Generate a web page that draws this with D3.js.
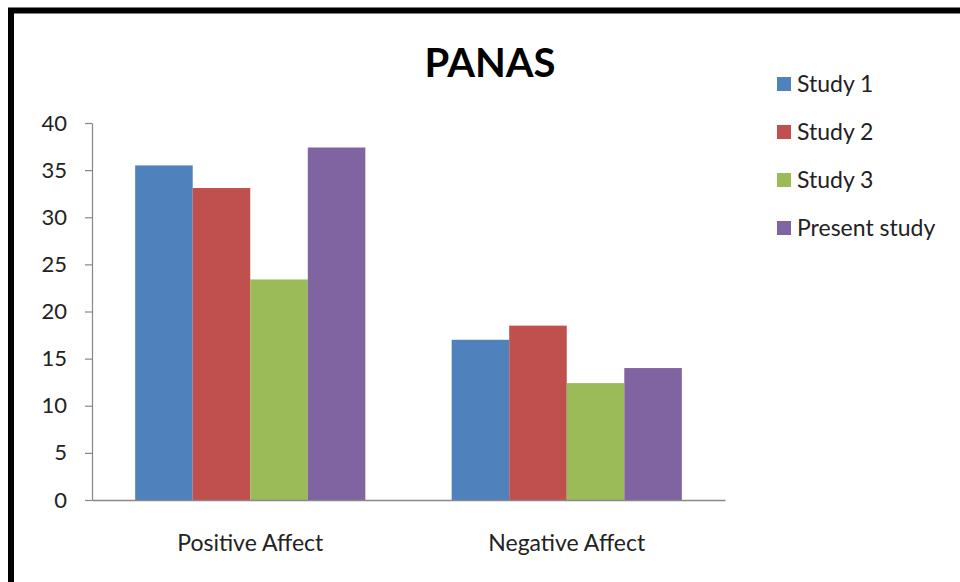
<!DOCTYPE html>
<html>
<head>
<meta charset="utf-8">
<script src="https://cdn.jsdelivr.net/npm/d3@7"></script>
<style>
  html, body { margin: 0; padding: 0; background: #fff; }
  svg { display: block; }
</style>
</head>
<body>
<svg id="chart" width="960" height="582"></svg>
<script>
// PANAS scores by study
const categories = ["Positive Affect", "Negative Affect"];
const seriesNames = ["Study 1", "Study 2", "Study 3", "Present study"];
const study1 = [35.5, 17.0];
const study2 = [33.1, 18.5];
const study3 = [23.4, 12.4];
const presentStudy = [37.4, 14.0];
const yTicks = [0, 5, 10, 15, 20, 25, 30, 35, 40];
const colors = ["#4f81bd", "#c0504d", "#9bbb59", "#8064a2"];

const seriesValues = [study1, study2, study3, presentStudy];
const font = "Lato, 'Open Sans', sans-serif";

const svg = d3.select("#chart");

// outer frame (top and left edges)
svg.append("path")
  .attr("d", "M11,582 V10.5 H960")
  .attr("fill", "none")
  .attr("stroke", "#000")
  .attr("stroke-width", 6);

const plot = { left: 92, right: 725, top: 123, bottom: 500 };

const x0 = d3.scaleBand()
  .domain(categories)
  .range([plot.left, plot.right])
  .paddingInner(0)
  .paddingOuter(0);

// 150% gap between groups: bar width = band / (4 + 1.5)
const barW = x0.bandwidth() / (seriesNames.length + 1.5);
const x1 = d3.scaleBand()
  .domain(seriesNames)
  .range([0, barW * seriesNames.length]);

const y = d3.scaleLinear().domain([0, 40]).range([plot.bottom, plot.top]);

// bars
const groups = svg.append("g").selectAll("g")
  .data(categories)
  .join("g")
  .attr("transform", (d) => `translate(${x0(d) + (x0.bandwidth() - barW * seriesNames.length) / 2},0)`);

groups.selectAll("rect")
  .data((c, ci) => seriesNames.map((s, si) => ({ s, si, v: seriesValues[si][ci] })))
  .join("rect")
  .attr("x", (d) => x1(d.s))
  .attr("width", x1.bandwidth())
  .attr("y", (d) => y(d.v))
  .attr("height", (d) => y(0) - y(d.v))
  .attr("fill", (d) => colors[d.si]);

// y axis
const yAxis = svg.append("g")
  .attr("transform", `translate(${plot.left},0)`)
  .call(d3.axisLeft(y).tickValues(yTicks).tickSize(7).tickPadding(18).tickSizeOuter(0));
yAxis.select(".domain").attr("stroke", "#888").attr("stroke-width", 1.2);
yAxis.selectAll(".tick line").attr("stroke", "#888").attr("stroke-width", 1.2);
yAxis.selectAll("text")
  .attr("font-family", font)
  .attr("font-size", 22)
  .attr("fill", "#222");

// x axis
const xAxis = svg.append("g")
  .attr("transform", `translate(0,${plot.bottom})`)
  .call(d3.axisBottom(x0).tickSize(0).tickPadding(35).tickSizeOuter(0));
xAxis.select(".domain").attr("stroke", "#888").attr("stroke-width", 1.5);
xAxis.selectAll("text")
  .attr("font-family", font)
  .attr("font-size", 23)
  .attr("fill", "#222");

// title
svg.append("text")
  .attr("x", 490)
  .attr("y", 77)
  .attr("text-anchor", "middle")
  .attr("font-family", font)
  .attr("font-weight", "bold")
  .attr("font-size", 40)
  .attr("fill", "#000")
  .text("PANAS");

// legend
const legend = svg.append("g").attr("transform", "translate(777,0)");
const legendY = d3.scalePoint().domain(seriesNames).range([84, 228]);
const items = legend.selectAll("g")
  .data(seriesNames)
  .join("g")
  .attr("transform", (d) => `translate(0,${legendY(d)})`);
items.append("rect")
  .attr("x", 0).attr("y", -7)
  .attr("width", 14).attr("height", 14)
  .attr("fill", (d, i) => colors[i]);
items.append("text")
  .attr("x", 20)
  .attr("y", 0)
  .attr("dy", "0.35em")
  .attr("font-family", font)
  .attr("font-size", 23)
  .attr("fill", "#222")
  .text((d) => d);
</script>
</body>
</html>
